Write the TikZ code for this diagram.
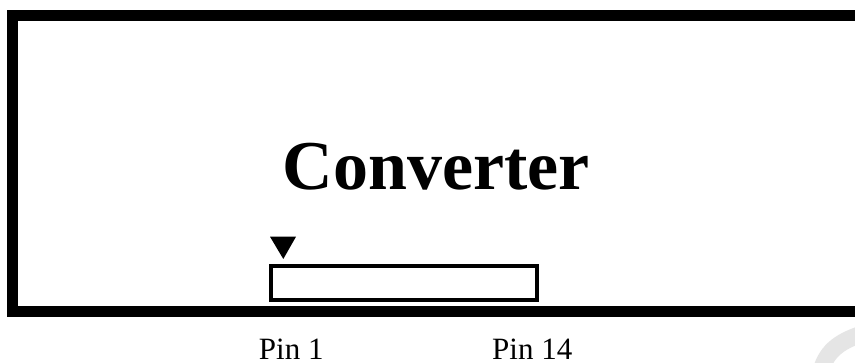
\documentclass[tikz,border=0pt]{standalone}
\usepackage{fontspec}
\setmainfont{Liberation Serif}
\begin{document}
\begin{tikzpicture}[x=1pt,y=-1pt,
  frame/.style={line width=11pt, line join=miter},
  slot/.style={draw, line width=4pt, line join=miter},
  pinlabel/.style={inner sep=0pt, anchor=base, font=\fontsize{31}{31}\selectfont},
  title/.style={inner sep=0pt, anchor=base, font=\fontsize{70}{70}\selectfont\bfseries}]
\useasboundingbox (0,0) rectangle (855,363);
\clip (0,0) rectangle (855,363);
\fill[white] (0,0) rectangle (855,363);
% outer casing (right side runs off the picture)
\draw[frame] (875,15.3) -- (12.7,15.3) -- (12.7,311.3) -- (875,311.3);
% title
\node[title] (conv) at (436.5,190) {Converter};
% connector slot
\node[slot, minimum width=266pt, minimum height=34.3pt, inner sep=0pt, anchor=north west] (slot) at (268.8,263.8) {};
% pin-1 marker
\fill (270,236.7) -- (296,236.7) -- (283.3,259) -- cycle;
\node[inner sep=0pt] (mark) at (283.3,244) {};
% pin labels
\node[pinlabel] (pin1) at (291.2,359.3) {Pin 1};
\node[pinlabel] (pin14) at (532.2,359.3) {Pin 14};
% faint watermark fragment
\draw[black!10, line width=17pt] (820,375) .. controls (825,352) and (838,342) .. (862,334);
\end{tikzpicture}
\end{document}
